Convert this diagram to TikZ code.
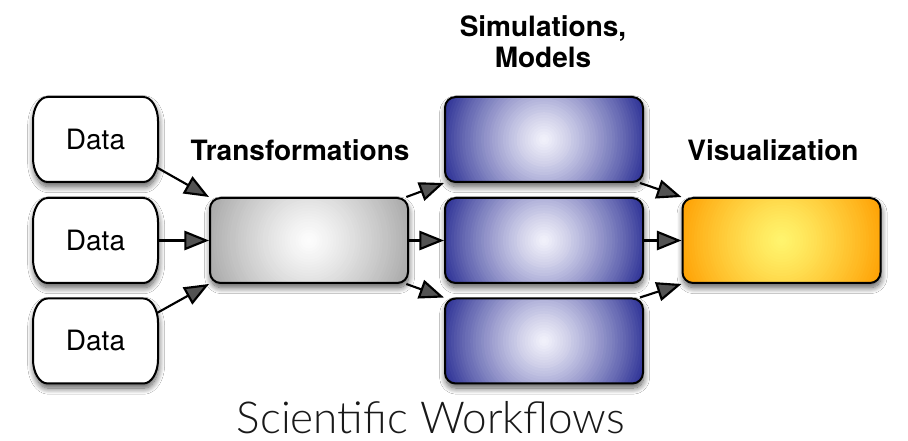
\documentclass[tikz,border=0pt]{standalone}
\usepackage{fontspec}
\setmainfont{TeX Gyre Heros}
\newfontfamily\lightfont{Lato}[UprightFont=* Light]
\usetikzlibrary{arrows.meta,shadows.blur,calc}
\definecolor{blueC}{HTML}{F2F2FB}
\definecolor{blueE}{HTML}{272B92}
\definecolor{grayC}{HTML}{FDFDFD}
\definecolor{grayE}{HTML}{A6A6A6}
\definecolor{orC}{HTML}{FFF56E}
\definecolor{orE}{HTML}{FF9E00}
\newcommand\glow[2]{%
  \foreach \i in {40,39,...,1}{%
    \pgfmathtruncatemacro\pc{100*(\i/40)^1.2}%
    \fill[#2!\pc!#1] (path picture bounding box.center) circle[radius=\i*2.05pt];}}
\tikzset{
  shad/.style={blur shadow={shadow xshift=0.5pt, shadow yshift=-3.5pt, shadow blur radius=4.5pt, shadow blur steps=12, shadow opacity=65}},
  box/.style={shad, minimum width=148.5pt, minimum height=63.75pt, rounded corners=8pt, draw=black, line width=1.5pt, inner sep=0pt},
  graybox/.style={box, fill=grayE, path picture={\glow{grayC}{grayE}}},
  bluebox/.style={box, fill=blueE, path picture={\glow{blueC}{blueE}}},
  orbox/.style={box, fill=orE, path picture={\glow{orC}{orE}}},
  datanode/.style={minimum width=93.75pt, minimum height=63.75pt, inner sep=0pt, font=\fontsize{21}{25}\selectfont},
  dataf/.style={shad, draw=black, fill=white, line width=1.5pt},
  lbl/.style={font=\fontsize{21}{24.5}\selectfont\bfseries, align=center},
  conn/.style={line width=1.6pt, -{Triangle[length=18.5pt,width=14.5pt]}},
}
\newcommand\dataframe[1]{%
  \draw[dataf] ($(#1)+(-35.875pt,31.875pt)$) -- ++(71.75pt,0)
    arc[start angle=90,end angle=0,x radius=11pt,y radius=18pt] -- ++(0,-27.75pt)
    arc[start angle=0,end angle=-90,x radius=11pt,y radius=18pt] -- ++(-71.75pt,0)
    arc[start angle=270,end angle=180,x radius=11pt,y radius=18pt] -- ++(0,27.75pt)
    arc[start angle=180,end angle=90,x radius=11pt,y radius=18pt] -- cycle;}
\begin{document}
\begin{tikzpicture}[x=0.75pt,y=-0.75pt]
\fill[white] (0,0) rectangle (908,441);
\useasboundingbox (0,0) rectangle (908,441);

\coordinate (c1) at (95.5,139.5);
\coordinate (c2) at (95.5,240.5);
\coordinate (c3) at (95.5,341);
\dataframe{c1}
\dataframe{c2}
\dataframe{c3}
\node[datanode] (d1) at (c1) {Data};
\node[datanode] (d2) at (c2) {Data};
\node[datanode] (d3) at (c3) {Data};

\node[graybox] (T) at (309,240.5) {};
\node[bluebox] (B1) at (544,139.5) {};
\node[bluebox] (B2) at (544,240.5) {};
\node[bluebox] (B3) at (544,341) {};
\node[orbox] (V) at (781.5,240.5) {};

\node[lbl] (lt) at (300,150) {Transformations};
\node[lbl] (lv) at (773,150) {Visualization};
\node[lbl] (ls) at (543,42) {Simulations,\\[-1pt]Models};
\node[text=black!90, inner sep=0pt] (title) at (431,418) {\resizebox{291pt}{!}{\lightfont Scientific Workflows}};

\draw[conn] ([xshift=-1pt,yshift=-21pt]d1.east) -- (T.north west);
\draw[conn] (d2.east) -- (T.west);
\draw[conn] ([xshift=-1pt,yshift=21pt]d3.east) -- (T.south west);
\draw[conn] ([xshift=-2pt]T.north east) -- (B1.south west);
\draw[conn] (T.east) -- (B2.west);
\draw[conn] ([xshift=-2pt]T.south east) -- (B3.north west);
\draw[conn] ([xshift=-3pt]B1.south east) -- (V.north west);
\draw[conn] (B2.east) -- (V.west);
\draw[conn] ([xshift=-3pt]B3.north east) -- (V.south west);
\end{tikzpicture}
\end{document}
